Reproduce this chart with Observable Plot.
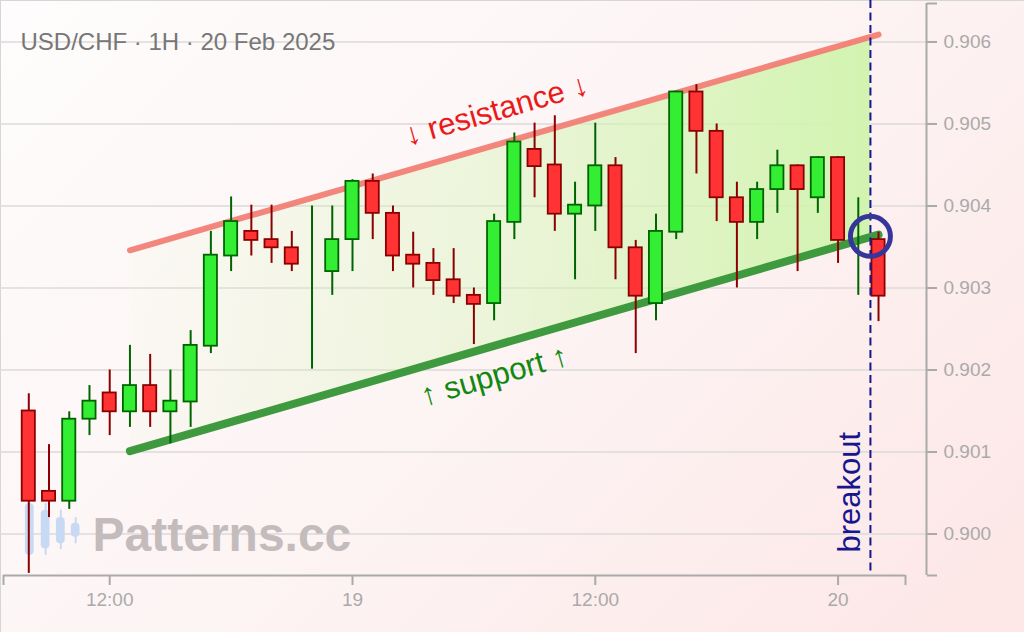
<!DOCTYPE html>
<html><head><meta charset="utf-8">
<script src="https://cdn.jsdelivr.net/npm/d3@7"></script>
<script src="https://cdn.jsdelivr.net/npm/@observablehq/plot@0.6"></script>
<style>
html,body{margin:0;padding:0;width:1024px;height:632px;overflow:hidden}
body{background:linear-gradient(135deg,#fefcfc 0%,#fdf4f4 50%,#fde6e6 100%);box-shadow:inset 1px 1px 0 #d6d6d6}
#chart svg{display:block}
</style></head><body><div id="chart"></div>
<script>
// ---------- data ----------
const title = "USD/CHF · 1H · 20 Feb 2025";
const firstHour = "2025-02-18T08:00:00Z";
const open  = [0.90150,0.90052,0.90040,0.90140,0.90172,0.90149,0.90181,0.90149,0.90161,0.90229,0.90339,0.90369,0.90359,0.90349,0.90329,0.90320,0.90359,0.90430,0.90391,0.90340,0.90330,0.90310,0.90291,0.90281,0.90380,0.90469,0.90450,0.90390,0.90400,0.90449,0.90349,0.90281,0.90368,0.90539,0.90491,0.90410,0.90380,0.90420,0.90449,0.90410,0.90459,0.90358,0.90359];
const high  = [0.90171,0.90109,0.90149,0.90181,0.90200,0.90230,0.90219,0.90200,0.90248,0.90369,0.90411,0.90401,0.90401,0.90369,0.90400,0.90400,0.90432,0.90439,0.90400,0.90368,0.90348,0.90348,0.90300,0.90390,0.90489,0.90501,0.90510,0.90429,0.90501,0.90459,0.90358,0.90390,0.90540,0.90548,0.90500,0.90429,0.90429,0.90468,0.90450,0.90460,0.90460,0.90410,0.90368];
const low   = [0.89952,0.90020,0.90030,0.90120,0.90120,0.90130,0.90130,0.90110,0.90130,0.90220,0.90320,0.90339,0.90330,0.90320,0.90201,0.90291,0.90320,0.90359,0.90320,0.90300,0.90291,0.90281,0.90231,0.90260,0.90359,0.90410,0.90369,0.90310,0.90369,0.90310,0.90220,0.90260,0.90359,0.90439,0.90381,0.90300,0.90359,0.90391,0.90320,0.90391,0.90330,0.90291,0.90259];
const close = [0.90040,0.90040,0.90140,0.90162,0.90149,0.90181,0.90149,0.90162,0.90230,0.90340,0.90381,0.90358,0.90349,0.90329,0.90329,0.90359,0.90430,0.90391,0.90339,0.90329,0.90309,0.90290,0.90280,0.90381,0.90478,0.90448,0.90390,0.90401,0.90449,0.90349,0.90290,0.90369,0.90539,0.90491,0.90410,0.90380,0.90420,0.90449,0.90420,0.90459,0.90358,0.90358,0.90290];

const resistanceTimes  = ["2025-02-18T13:00:00Z","2025-02-20T02:00:00Z"];
const resistancePrices = [0.90346, 0.90609];
const supportTimes     = ["2025-02-18T13:00:00Z","2025-02-20T02:00:00Z"];
const supportPrices    = [0.90101, 0.90365];
const channelTimes     = ["2025-02-18T13:00:00Z","2025-02-20T01:36:00Z"];
const channelTop       = [0.90346, 0.90606];
const channelBottom    = [0.90101, 0.90363];
const breakoutTime     = "2025-02-20T01:36:00Z";
const breakoutPrice    = 0.90363;

const xTickTimes  = ["2025-02-18T12:00:00Z","2025-02-19T00:00:00Z","2025-02-19T12:00:00Z","2025-02-20T00:00:00Z"];
const xTickLabels = ["12:00","19","12:00","20"];
const xDomainTimes = ["2025-02-18T06:45:00Z","2025-02-20T03:20:00Z"];
const yTicks = [0.900,0.901,0.902,0.903,0.904,0.905,0.906];
const yDomain = [0.899494, 0.906469];

const logoTimes = ["2025-02-18T08:03:00Z","2025-02-18T08:50:00Z","2025-02-18T09:35:00Z","2025-02-18T10:19:00Z"];
const logoHigh  = [0.90037,0.90037,0.90029,0.90020];
const logoLow   = [0.89974,0.89974,0.89981,0.89988];
const logoTop   = [0.90037,0.90029,0.90020,0.90013];
const logoBot   = [0.89974,0.89982,0.89988,0.89996];

// ---------- build ----------
const D = s => new Date(s);
const t0 = Date.parse(firstHour);
const candles = open.map((o, i) => ({
  t: new Date(t0 + i * 3600e3), o, h: high[i], l: low[i], c: close[i], up: close[i] >= o
}));
const resistance = resistanceTimes.map((t, i) => ({t: D(t), p: resistancePrices[i]}));
const support = supportTimes.map((t, i) => ({t: D(t), p: supportPrices[i]}));
const channel = channelTimes.map((t, i) => ({t: D(t), hi: channelTop[i], lo: channelBottom[i]}));
const logo = logoTimes.map((t, i) => ({t: D(t), h: logoHigh[i], l: logoLow[i], a: logoTop[i], b: logoBot[i]}));
const mid = arr => ({t: new Date(d3.mean(arr, d => +d.t)), p: d3.mean(arr, d => d.p)});
const xTicks = xTickTimes.map(D);
const labelOf = new Map(xTicks.map((d, i) => [+d, xTickLabels[i]]));
const xDomain = xDomainTimes.map(D);
const bodyHalf = 19.5 * 60e3;
const logoHalf = 13 * 60e3;

const UP_FILL = "#33ee33", UP_LINE = "#006400", DN_FILL = "#ff3333", DN_LINE = "#8b0000";
const AXIS = "#aaa";

const svg = Plot.plot({
  width: 1024, height: 632,
  marginLeft: 3, marginRight: 119, marginTop: 3, marginBottom: 57,
  style: {background: "transparent", fontFamily: "'Liberation Sans', Arial, sans-serif", overflow: "visible"},
  x: {type: "utc", domain: xDomain},
  y: {domain: yDomain},
  color: {type: "identity"},
  marks: [
    Plot.ruleY(yTicks, {stroke: "#dddada", strokeWidth: 1.5, insetLeft: -3, insetRight: -21}),
    Plot.areaY(channel, {x: "t", y1: "lo", y2: "hi", fill: "url(#chanGrad)"}),
    // watermark
    Plot.ruleX(logo, {x: "t", y1: "l", y2: "h", stroke: "#c8daf3", strokeWidth: 2}),
    Plot.rect(logo, {x1: d => new Date(+d.t - logoHalf), x2: d => new Date(+d.t + logoHalf), y1: "b", y2: "a", fill: "#c8daf3", rx: 4}),
    Plot.text(["Patterns.cc"], {frameAnchor: "bottom-left", dx: 89, dy: -59, lineAnchor: "top", textAnchor: "start",
      fontSize: 48, fontWeight: "bold", fill: "#c4bcbc"}),
    // channel lines
    Plot.line(resistance, {x: "t", y: "p", stroke: "#f27c72", strokeWidth: 6, strokeLinecap: "round", strokeOpacity: 0.92}),
    Plot.line(support, {x: "t", y: "p", stroke: "#3f9a3f", strokeWidth: 8, strokeLinecap: "round"}),
    // candles
    Plot.ruleX(candles, {x: "t", y1: "l", y2: "h", stroke: d => d.up ? UP_LINE : DN_LINE, strokeWidth: 2}),
    Plot.rect(candles.filter(d => d.o !== d.c), {
      x1: d => new Date(+d.t - bodyHalf), x2: d => new Date(+d.t + bodyHalf),
      y1: "o", y2: "c", fill: d => d.up ? UP_FILL : DN_FILL, stroke: d => d.up ? UP_LINE : DN_LINE, strokeWidth: 1.8
    }),
    // breakout
    Plot.ruleX([D(breakoutTime)], {stroke: "#16168e", strokeWidth: 2, strokeDasharray: "8,4.5", insetTop: -3}),
    Plot.dot([{t: D(breakoutTime), p: breakoutPrice}], {x: "t", y: "p", r: 20, stroke: "#36369a", strokeWidth: 5, fill: "none"}),
    Plot.text([D(breakoutTime)], {x: d => d, frameAnchor: "bottom", text: () => "breakout", rotate: -90,
      textAnchor: "start", lineAnchor: "middle", dx: -20, dy: -23, fontSize: 31, fill: "#16168e"}),
    // labels
    Plot.text([mid(resistance)], {x: "t", y: "p", text: () => "↓ resistance ↓", rotate: -16, dx: -8, dy: -32,
      fontSize: 31, fill: "#ea1a1a"}),
    Plot.text([mid(support)], {x: "t", y: "p", text: () => "↑ support ↑", rotate: -16, dx: -10, dy: 33,
      fontSize: 31, fill: "#118811"}),
    // axes
    Plot.ruleY([yDomain[0]], {stroke: AXIS, strokeWidth: 2}),
    Plot.axisX(xTicks, {tickSize: 10, tickPadding: 7, tickFormat: d => labelOf.get(+d), color: AXIS, fontSize: 19, strokeWidth: 2, label: null}),
    Plot.axisX(xDomain, {tickSize: 10, tickFormat: () => "", color: AXIS, strokeWidth: 2, label: null}),
    Plot.ruleX([xDomain[1]], {dx: 21, stroke: AXIS, strokeWidth: 2}),
    Plot.axisY(yTicks, {anchor: "right", dx: 21, tickSize: 10, tickPadding: 7, tickFormat: d3.format(".3f"), color: AXIS, fontSize: 19, strokeWidth: 2, label: null}),
    Plot.axisY(yDomain, {anchor: "right", dx: 21, tickSize: 10, tickFormat: () => "", color: AXIS, strokeWidth: 2, label: null}),
    // title
    Plot.text([title], {frameAnchor: "top-left", dx: 17, dy: 29, lineAnchor: "top", textAnchor: "start", fontSize: 24, fill: "#777"})
  ]
});

// gradient for the channel fill
const NS = "http://www.w3.org/2000/svg";
const defs = document.createElementNS(NS, "defs");
const grad = document.createElementNS(NS, "linearGradient");
grad.setAttribute("id", "chanGrad");
grad.setAttribute("x1", "0"); grad.setAttribute("x2", "1"); grad.setAttribute("y1", "0"); grad.setAttribute("y2", "0");
[[0, 0.05], [0.5, 0.4], [1, 1]].forEach(([o, a]) => {
  const s = document.createElementNS(NS, "stop");
  s.setAttribute("offset", o);
  s.setAttribute("stop-color", "#d2f4b0");
  s.setAttribute("stop-opacity", a);
  grad.appendChild(s);
});
defs.appendChild(grad);
svg.insertBefore(defs, svg.firstChild);
document.getElementById("chart").appendChild(svg);
</script>
</body></html>
